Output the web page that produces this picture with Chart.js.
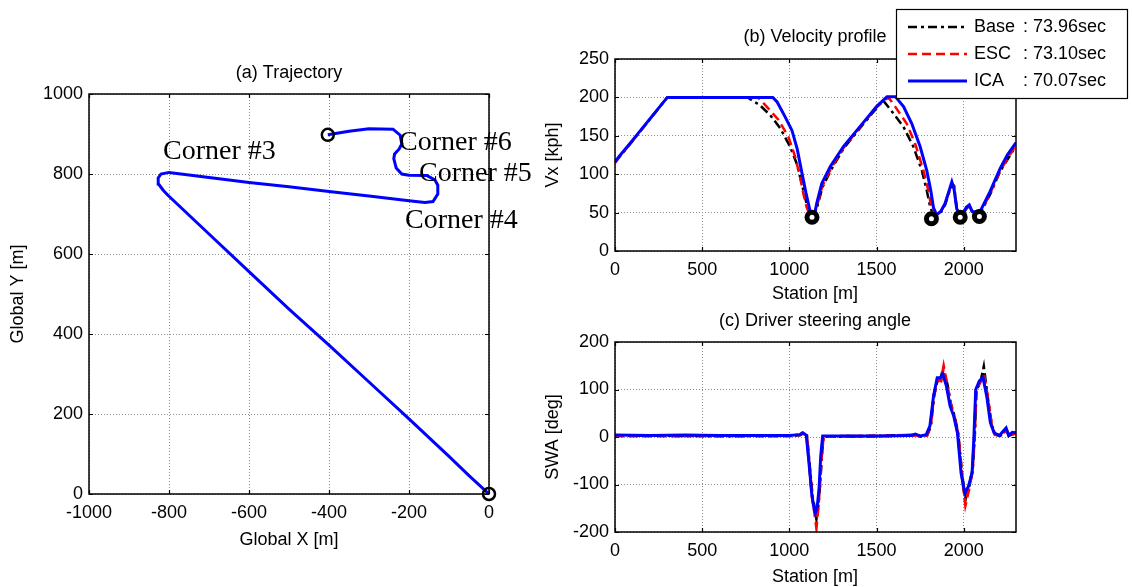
<!DOCTYPE html>
<html><head><meta charset="utf-8">
<script src="https://cdn.jsdelivr.net/npm/chart.js@4.4.0/dist/chart.umd.min.js"></script>
<style>
html,body{margin:0;padding:0;background:#fff;overflow:hidden}
#wrap{position:relative;width:1132px;height:587px;background:#fff}
canvas{position:absolute;left:0;top:0}
</style></head><body>
<div id="wrap">
<canvas id="ca" width="1132" height="587"></canvas>
<canvas id="cb" width="1132" height="587"></canvas>
<canvas id="cc" width="1132" height="587"></canvas>
</div>
<script>
// ---------- (a) Trajectory ----------
const trajX = [0, -50, -100, -200, -300, -400, -500, -600, -700, -804, -815, -826, -827, -820, -800, -700, -600, -500, -400, -300, -200, -160, -140, -128, -128, -135, -155, -200, -218, -232, -238, -236, -225, -218, -222, -240, -300, -350, -403];
const trajY = [0, 46, 94, 188, 280, 372, 462, 556, 650, 748, 760, 775, 790, 800, 804, 791, 779, 768, 756, 745, 733, 729, 731, 750, 772, 785, 796, 797, 800, 815, 838, 850, 862, 875, 897, 912, 913, 907, 898];
const trajMarkX = [0, -403];
const trajMarkY = [0, 898];
const trajXTicks = [-1000, -800, -600, -400, -200, 0];
const trajYTicks = [0, 200, 400, 600, 800, 1000];
const cornerLabels = ['Corner #3', 'Corner #6', 'Corner #5', 'Corner #4'];

// ---------- (b) Velocity profile ----------
const seriesNames = ['Base', 'ESC', 'ICA'];
const lapTimes = ['73.96sec', '73.10sec', '70.07sec'];
const stationBase = [0, 20, 100, 300, 760, 830, 890, 947, 1004, 1042, 1071, 1094, 1110, 1124, 1140, 1160, 1190, 1240, 1310, 1405, 1500, 1530, 1545, 1597, 1654, 1711, 1760, 1788, 1807, 1822, 1845, 1870, 1893, 1932, 1945, 1960, 1975, 1995, 2015, 2032, 2050, 2080, 2100, 2150, 2210, 2300];
const vxBase = [115, 121, 143, 200, 200, 190, 177, 160, 136, 114, 88, 66, 53, 47, 48, 58, 83, 106, 133, 160, 186, 196, 194, 179, 162, 136, 105, 79, 58, 49, 47, 51, 60, 87, 85, 56, 49, 48, 55, 59, 50, 50, 51, 73, 104, 137];
const stationEsc = [0, 20, 100, 300, 820, 870, 937, 994, 1033, 1061, 1080, 1099, 1115, 1130, 1145, 1160, 1190, 1240, 1310, 1405, 1500, 1560, 1575, 1607, 1673, 1721, 1769, 1797, 1813, 1819, 1840, 1870, 1893, 1932, 1945, 1960, 1975, 1995, 2015, 2032, 2050, 2080, 2100, 2150, 2210, 2300];
const vxEsc = [115, 121, 143, 200, 200, 188, 171, 149, 123, 97, 75, 57, 48, 45, 50, 60, 85, 108, 134, 161, 187, 199, 198, 188, 166, 140, 105, 79, 58, 49, 46, 52, 61, 88, 84, 55, 49, 49, 56, 59, 51, 50, 52, 74, 105, 138];
const stationIca = [0, 20, 100, 200, 300, 905, 930, 975, 1015, 1045, 1070, 1095, 1118, 1135, 1145, 1157, 1186, 1235, 1310, 1405, 1500, 1560, 1608, 1655, 1702, 1750, 1788, 1811, 1827, 1845, 1870, 1893, 1932, 1945, 1960, 1975, 1995, 2015, 2032, 2050, 2080, 2100, 2150, 2210, 2250, 2300];
const vxIca = [116, 122, 144, 172, 200, 200, 194, 175, 157, 133, 104, 76, 53, 46, 48, 62, 88, 110, 136, 162, 188, 201, 201, 188, 166, 136, 105, 79, 56, 47, 52, 62, 90, 80, 55, 49, 49, 57, 60, 51, 51, 54, 77, 108, 125, 141];
const cornerStation = [1130, 1815, 1980, 2090];
const cornerVx = [44, 42, 44, 45];
const stationTicks = [0, 500, 1000, 1500, 2000];
const vxTicks = [0, 50, 100, 150, 200, 250];

// ---------- (c) Driver steering angle ----------
const swaStationBase = [0, 300, 600, 1000, 1060, 1078, 1100, 1112, 1122, 1132, 1145, 1155, 1165, 1175, 1185, 1195, 1500, 1720, 1760, 1790, 1810, 1830, 1850, 1870, 1880, 1905, 1925, 1948, 1968, 1990, 2010, 2030, 2050, 2062, 2072, 2095, 2115, 2135, 2160, 2180, 2210, 2245, 2260, 2300];
const swaBase = [3, 3, 2, 3, 4, 8, 3, -45, -85, -125, -150, -170, -145, -100, -40, 1, 2, 4, 1, 4, 22, 88, 122, 125, 140, 112, 70, 42, 6, -80, -130, -105, -72, 0, 102, 112, 146, 88, 25, 6, 3, 16, 3, 10];
const swaStationEsc = [0, 300, 600, 1000, 1060, 1080, 1100, 1112, 1122, 1132, 1145, 1155, 1165, 1175, 1185, 1195, 1500, 1720, 1760, 1790, 1810, 1830, 1850, 1870, 1885, 1905, 1925, 1948, 1968, 1990, 2010, 2030, 2050, 2062, 2072, 2095, 2115, 2135, 2160, 2180, 2210, 2245, 2260, 2300];
const swaEsc = [2, 2, 3, 2, 4, 8, 3, -50, -90, -130, -160, -188, -150, -100, -40, 1, 2, 4, 1, 4, 25, 90, 120, 118, 148, 110, 70, 40, 5, -80, -142, -110, -70, 0, 100, 115, 132, 90, 25, 5, 3, 15, 3, 8];
const swaStationIca = [0, 200, 400, 600, 800, 1000, 1060, 1075, 1097, 1109, 1118, 1128, 1139, 1149, 1160, 1170, 1180, 1191, 1300, 1500, 1700, 1722, 1754, 1785, 1806, 1827, 1848, 1865, 1880, 1901, 1922, 1943, 1964, 1985, 2006, 2027, 2048, 2058, 2069, 2090, 2111, 2132, 2153, 2174, 2205, 2243, 2258, 2279, 2300];
const swaIca = [4, 3, 4, 3, 3, 3, 5, 9, 4, -40, -76, -118, -146, -160, -146, -111, -40, 2, 2, 2, 3, 6, 2, 5, 23, 86, 125, 125, 132, 107, 65, 44, 9, -76, -118, -104, -76, -5, 100, 118, 125, 86, 30, 9, 3, 19, 3, 10, 9];
const swaTicks = [-200, -100, 0, 100, 200];

// ---------- helpers ----------
const SANS = "'Liberation Sans', Arial, Helvetica, sans-serif";
const SERIF = "'Liberation Serif', 'Times New Roman', serif";
const pts = (xs, ys) => xs.map((x, i) => ({x: x, y: ys[i]}));
const BLUE = '#0000ff', RED = '#ff0000', BLACK = '#000000';
const DASH_RED = [9, 5], DASH_BLACK = [9, 4, 3, 4];

function axis(pos, min, max, tickVals, size) {
  const isX = pos === 'bottom';
  return {
    type: 'linear', position: pos, min: min, max: max,
    afterBuildTicks: s => { s.ticks = tickVals.map(v => ({value: v})); },
    afterFit: s => { if (isX) s.height = size; else s.width = size; },
    ticks: {color: '#000', font: {family: SANS, size: 18}, padding: isX ? 8 : 6,
            autoSkip: false, maxRotation: 0, minRotation: 0, callback: v => String(v)},
    grid: {color: '#8c8c8c', lineWidth: 1, drawTicks: false},
    border: {display: false, dash: [1, 2]}
  };
}

function framePlugin(id, xTicks, yTicks, texts, extra) {
  return {
    id: id,
    afterDraw(chart) {
      const ctx = chart.ctx, a = chart.chartArea;
      const xs = chart.scales.x, ys = chart.scales.y;
      ctx.save();
      ctx.strokeStyle = '#000'; ctx.lineWidth = 1.5; ctx.setLineDash([]);
      ctx.strokeRect(a.left, a.top, a.right - a.left, a.bottom - a.top);
      ctx.lineWidth = 1.2;
      ctx.beginPath();
      xTicks.forEach(v => { const p = Math.round(xs.getPixelForValue(v)) + 0.5;
        ctx.moveTo(p, a.bottom); ctx.lineTo(p, a.bottom - 4);
        ctx.moveTo(p, a.top); ctx.lineTo(p, a.top + 4); });
      yTicks.forEach(v => { const p = Math.round(ys.getPixelForValue(v)) + 0.5;
        ctx.moveTo(a.left, p); ctx.lineTo(a.left + 4, p);
        ctx.moveTo(a.right, p); ctx.lineTo(a.right - 4, p); });
      ctx.stroke();
      ctx.fillStyle = '#000';
      texts.forEach(t => {
        ctx.save();
        ctx.font = t.font || ('18px ' + SANS);
        ctx.textAlign = t.align || 'center';
        ctx.textBaseline = 'middle';
        ctx.translate(t.x, t.y);
        if (t.rot) ctx.rotate(t.rot);
        ctx.fillText(t.t, 0, 0);
        ctx.restore();
      });
      if (extra) extra(ctx, chart);
      ctx.restore();
    }
  };
}

function lineDs(label, data, color, dash, width) {
  return {label: label, data: data, showLine: true, borderColor: color, backgroundColor: color,
          borderWidth: width, borderDash: dash, pointRadius: 0, tension: 0, fill: false};
}

const common = {responsive: false, animation: false, devicePixelRatio: 1,
  events: [], plugins: {legend: {display: false}, tooltip: {enabled: false}}};

// ---------- chart (a) ----------
new Chart(document.getElementById('ca'), {
  type: 'scatter',
  data: {datasets: [
    {label: 'start/end', data: pts(trajMarkX, trajMarkY), showLine: false, pointStyle: 'circle',
     pointRadius: 6, pointBorderWidth: 2.5, pointBorderColor: '#000', pointBackgroundColor: 'rgba(0,0,0,0)', clip: false},
    lineDs('ICA', pts(trajX, trajY), BLUE, [], 3)
  ]},
  options: Object.assign({}, common, {
    layout: {padding: {left: 0, top: 94, right: 643, bottom: 0}},
    scales: {x: axis('bottom', -1000, 0, trajXTicks, 93), y: axis('left', 0, 1000, trajYTicks, 89)}
  }),
  plugins: [framePlugin('fa', trajXTicks, trajYTicks, [
    {t: '(a) Trajectory', x: 289, y: 73},
    {t: 'Global X [m]', x: 289, y: 540},
    {t: 'Global Y [m]', x: 18, y: 294, rot: -Math.PI / 2},
    {t: cornerLabels[0], x: 163, y: 152, align: 'left', font: '28px ' + SERIF},
    {t: cornerLabels[1], x: 399, y: 143, align: 'left', font: '28px ' + SERIF},
    {t: cornerLabels[2], x: 419, y: 174, align: 'left', font: '28px ' + SERIF},
    {t: cornerLabels[3], x: 405, y: 221, align: 'left', font: '28px ' + SERIF}
  ])]
});

// ---------- chart (b) ----------
function drawLegend(ctx) {
  const L = 896, T = 9, R = 1127, B = 98;
  ctx.fillStyle = '#fff'; ctx.fillRect(L, T, R - L, B - T);
  ctx.strokeStyle = '#000'; ctx.lineWidth = 1.2; ctx.setLineDash([]);
  ctx.strokeRect(L + 0.5, T + 0.5, R - L, B - T);
  const rows = [27, 54, 81], cols = [BLACK, RED, BLUE], dashes = [DASH_BLACK, DASH_RED, []], widths = [2.5, 2.5, 3];
  rows.forEach((y, i) => {
    ctx.strokeStyle = cols[i]; ctx.lineWidth = widths[i]; ctx.setLineDash(dashes[i]);
    ctx.beginPath(); ctx.moveTo(908, y); ctx.lineTo(967, y); ctx.stroke();
    ctx.setLineDash([]);
    ctx.fillStyle = '#000'; ctx.font = '18px ' + SANS; ctx.textAlign = 'left'; ctx.textBaseline = 'middle';
    ctx.fillText(seriesNames[i], 974, y);
    ctx.fillText(': ' + lapTimes[i], 1023, y);
  });
}
new Chart(document.getElementById('cb'), {
  type: 'scatter',
  data: {datasets: [
    {label: 'corners', data: pts(cornerStation, cornerVx), showLine: false, pointStyle: 'circle',
     pointRadius: 5, pointBorderWidth: 5, pointBorderColor: '#000', pointBackgroundColor: '#fff', clip: false},
    lineDs(seriesNames[2], pts(stationIca, vxIca), BLUE, [], 3),
    lineDs(seriesNames[1], pts(stationEsc, vxEsc), RED, DASH_RED, 2.5),
    lineDs(seriesNames[0], pts(stationBase, vxBase), BLACK, DASH_BLACK, 2.5)
  ]},
  options: Object.assign({}, common, {
    layout: {padding: {left: 555, top: 59, right: 116, bottom: 296}},
    scales: {x: axis('bottom', 0, 2300, stationTicks, 40), y: axis('left', 0, 250, vxTicks, 60)}
  }),
  plugins: [framePlugin('fb', stationTicks, vxTicks, [
    {t: '(b) Velocity profile', x: 815, y: 37},
    {t: 'Station [m]', x: 815, y: 294},
    {t: 'Vx [kph]', x: 553, y: 155, rot: -Math.PI / 2}
  ], drawLegend)]
});

// ---------- chart (c) ----------
new Chart(document.getElementById('cc'), {
  type: 'scatter',
  data: {datasets: [
    lineDs(seriesNames[2], pts(swaStationIca, swaIca), BLUE, [], 3),
    lineDs(seriesNames[1], pts(swaStationEsc, swaEsc), RED, DASH_RED, 3),
    lineDs(seriesNames[0], pts(swaStationBase, swaBase), BLACK, DASH_BLACK, 3)
  ]},
  options: Object.assign({}, common, {
    layout: {padding: {left: 555, top: 342, right: 116, bottom: 15}},
    scales: {x: axis('bottom', 0, 2300, stationTicks, 40), y: axis('left', -200, 200, swaTicks, 60)}
  }),
  plugins: [framePlugin('fc', stationTicks, swaTicks, [
    {t: '(c) Driver steering angle', x: 815, y: 321},
    {t: 'Station [m]', x: 815, y: 577},
    {t: 'SWA [deg]', x: 553, y: 437, rot: -Math.PI / 2}
  ])]
});
</script>
</body></html>
